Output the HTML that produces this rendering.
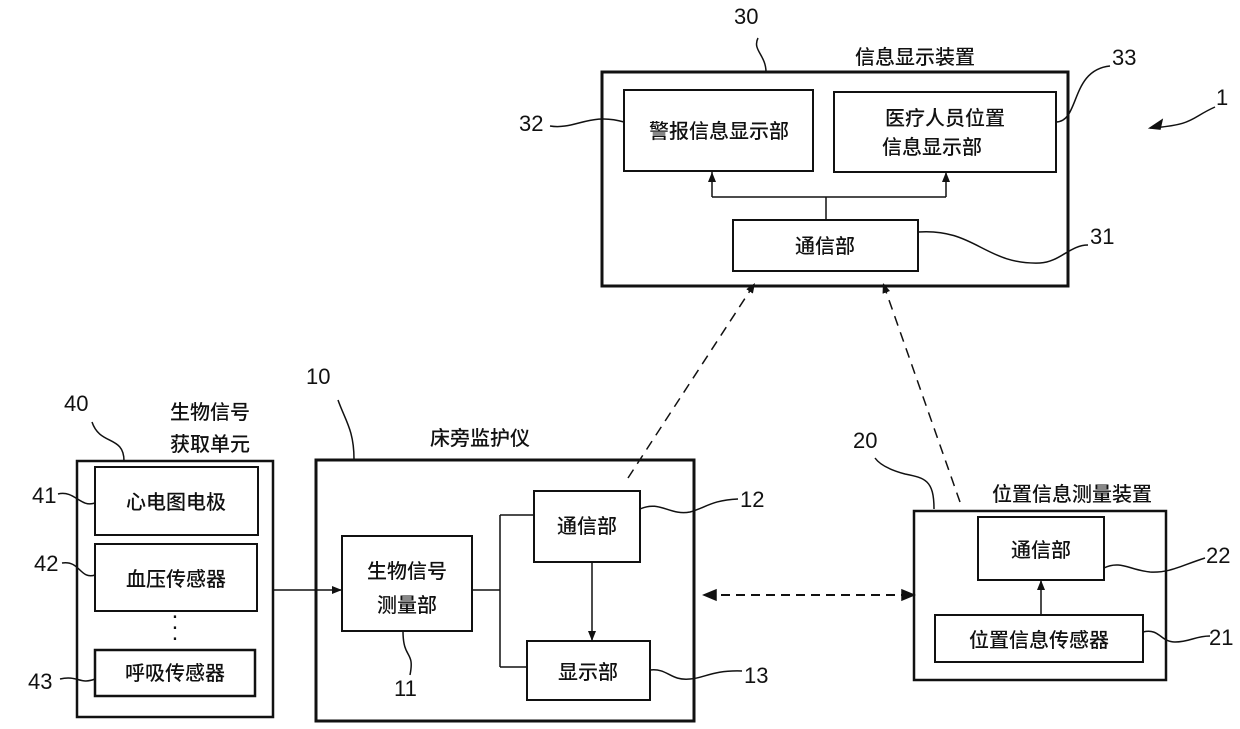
<!DOCTYPE html>
<html><head><meta charset="utf-8"><style>
html,body{margin:0;padding:0;background:#fff;}
svg{display:block;}
text{font-family:"Liberation Sans","Noto Sans CJK SC",sans-serif;fill:#111;}
.c{font-size:20px;text-anchor:middle;font-weight:500;}
.n{font-size:22px;font-family:"Liberation Sans Narrow","Liberation Sans",sans-serif;}
</style></head><body>
<svg width="1240" height="729" viewBox="0 0 1240 729" xmlns="http://www.w3.org/2000/svg">
<defs>
<marker id="a" viewBox="0 0 10 10" refX="10" refY="5" markerWidth="10" markerHeight="10" markerUnits="userSpaceOnUse" orient="auto"><path d="M0,1 L10,5 L0,9 z" fill="#111"/></marker>
</defs>
<g fill="none" stroke="#111" stroke-width="2">
<rect x="602" y="72" width="466" height="214" stroke-width="3"/>
<rect x="624" y="90" width="189" height="81"/>
<rect x="834" y="92" width="222" height="80"/>
<rect x="733" y="220" width="185" height="51"/>
<rect x="77" y="461" width="196" height="256" stroke-width="2.5"/>
<rect x="95" y="467" width="163" height="68"/>
<rect x="95" y="544" width="162" height="67"/>
<rect x="95" y="650" width="160" height="46" stroke-width="2.5"/>
<rect x="316" y="460" width="378" height="261" stroke-width="3"/>
<rect x="342" y="536" width="130" height="95"/>
<rect x="534" y="491" width="106" height="71"/>
<rect x="527" y="641" width="123" height="59"/>
<rect x="914" y="511" width="252" height="169" stroke-width="2.5"/>
<rect x="978" y="517" width="126" height="63"/>
<rect x="935" y="615" width="208" height="47"/>
</g>
<g fill="none" stroke="#111" stroke-width="1.5">
<path d="M826 220 V197 M712 197 H946"/>
<path d="M712 197 V172" marker-end="url(#a)"/>
<path d="M946 197 V172" marker-end="url(#a)"/>
<path d="M472 590 H500 M500 515 V667 M500 515 H534 M500 667 H527"/>
<path d="M592 562 V641" marker-end="url(#a)"/>
<path d="M273 590 H342" marker-end="url(#a)"/>
<path d="M1041 615 V580" marker-end="url(#a)"/>
<path d="M706 595 H902" stroke-dasharray="9,6" stroke-width="2"/>
<path d="M704 595 l12 -5 v10 z M914 595 l-12 -5 v10 z" fill="#111"/>
<path d="M628 478 L755 283" stroke-dasharray="10,7" marker-end="url(#a)"/>
<path d="M960 502 L883 283" stroke-dasharray="10,7" marker-end="url(#a)"/>
<path d="M766 72 C766 55 752 50 758 38"/>
<path d="M550 126 C575 130 590 112 624 122"/>
<path d="M1056 122 C1080 122 1070 70 1110 66"/>
<path d="M918 232 C975 228 985 265 1040 263 C1060 262 1070 245 1088 245"/>
<path d="M1215 107 C1190 118 1195 125 1150 128"/>
<path d="M1150 128 l12 -8 l-2 9 z" fill="#111"/>
<path d="M354 459 C354 430 345 420 338 400"/>
<path d="M124 461 C124 435 100 446 92 422"/>
<path d="M58 494 C75 490 80 508 95 503"/>
<path d="M62 563 C80 560 80 580 95 575"/>
<path d="M60 679 C78 675 80 685 95 679"/>
<path d="M403 631 C403 660 415 650 410 675"/>
<path d="M640 509 C660 500 670 516 690 512 C705 508 712 500 738 499"/>
<path d="M650 670 C668 668 670 681 690 679 C705 678 712 670 742 671"/>
<path d="M934 509 C934 480 925 478 905 474 C890 470 880 465 875 458"/>
<path d="M1104 568 C1120 560 1130 570 1150 572 C1170 573 1180 566 1205 558"/>
<path d="M1143 632 C1160 628 1160 642 1175 642 C1190 642 1195 636 1210 636"/>
</g>
<text class="c" x="719" y="138">警报信息显示部</text>
<text class="c" x="945" y="125">医疗人员位置</text>
<text class="c" x="932" y="154">信息显示部</text>
<text class="c" x="825" y="253">通信部</text>
<text class="c" x="915" y="64">信息显示装置</text>
<text class="c" x="210" y="419">生物信号</text>
<text class="c" x="210" y="451">获取单元</text>
<text class="c" x="176" y="509">心电图电极</text>
<text class="c" x="176" y="586">血压传感器</text>
<text class="c" x="175" y="680">呼吸传感器</text>
<text x="175" y="618" font-size="24" text-anchor="middle">.</text>
<text x="175" y="629" font-size="24" text-anchor="middle">.</text>
<text x="175" y="640" font-size="24" text-anchor="middle">.</text>
<text class="c" x="480" y="445">床旁监护仪</text>
<text class="c" x="407" y="578">生物信号</text>
<text class="c" x="407" y="612">测量部</text>
<text class="c" x="587" y="533">通信部</text>
<text class="c" x="588" y="679">显示部</text>
<text class="c" x="1072" y="501">位置信息测量装置</text>
<text class="c" x="1041" y="557">通信部</text>
<text class="c" x="1039" y="647">位置信息传感器</text>
<text class="n" x="734" y="24">30</text>
<text class="n" x="519" y="131">32</text>
<text class="n" x="1112" y="65">33</text>
<text class="n" x="1090" y="244">31</text>
<text class="n" x="1216" y="105">1</text>
<text class="n" x="64" y="411">40</text>
<text class="n" x="32" y="503">41</text>
<text class="n" x="34" y="571">42</text>
<text class="n" x="28" y="689">43</text>
<text class="n" x="306" y="384">10</text>
<text class="n" x="394" y="696">11</text>
<text class="n" x="740" y="507">12</text>
<text class="n" x="744" y="683">13</text>
<text class="n" x="853" y="448">20</text>
<text class="n" x="1206" y="563">22</text>
<text class="n" x="1209" y="645">21</text>
</svg>
</body></html>
